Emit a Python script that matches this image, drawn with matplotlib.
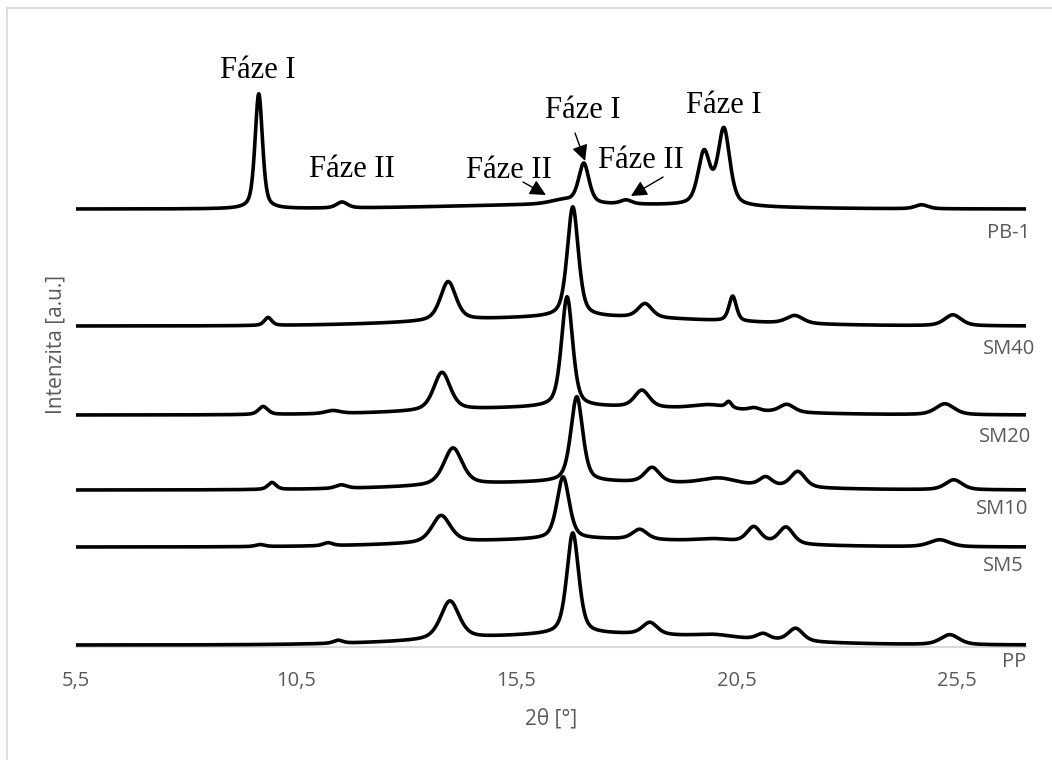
import numpy as np
import matplotlib
matplotlib.use("Agg")
import matplotlib.pyplot as plt
from matplotlib.lines import Line2D

# ---- axis range and labels -------------------------------------------------
two_theta_min, two_theta_max = 5.5, 27.07
tick_values = [5.5, 10.5, 15.5, 20.5, 25.5]
tick_labels = ["5,5", "10,5", "15,5", "20,5", "25,5"]

# ---- diffraction patterns: vertical offset + peak table per sample ----------
samples = ["PB-1", "SM40", "SM20", "SM10", "SM5", "PP"]
offsets = [438, 321, 232, 157, 100, 2]

# broad amorphous halo under each pattern
halo_height = [4.5, 9, 8, 8, 8, 11]
halo_center = [17.0, 17.0, 17.0, 17.0, 17.0, 17.3]
halo_fwhm = [7.0, 7.0, 7.0, 7.0, 7.0, 7.0]

pb1_pos = [9.65, 11.54, 16.55, 17.03, 17.99, 19.76, 20.21, 24.70]
pb1_height = [115, 6, 4, 40, 4, 52, 76, 4]
pb1_fwhm = [0.20, 0.30, 0.70, 0.28, 0.30, 0.32, 0.32, 0.35]

sm40_pos = [9.86, 13.95, 16.78, 18.42, 20.41, 21.82, 25.41]
sm40_height = [8, 39, 110, 14, 25, 8, 11]
sm40_fwhm = [0.20, 0.42, 0.30, 0.38, 0.20, 0.45, 0.45]

sm20_pos = [9.75, 11.33, 13.81, 16.65, 18.35, 19.90, 20.32, 20.90, 21.64, 25.23]
sm20_height = [8, 3, 38, 110, 17, 5, 6, 3, 8, 11]
sm20_fwhm = [0.25, 0.40, 0.45, 0.30, 0.40, 1.00, 0.15, 0.30, 0.40, 0.50]

sm10_pos = [9.95, 11.52, 14.06, 16.87, 18.58, 20.10, 21.16, 21.89, 25.43]
sm10_height = [7, 3.5, 37, 85, 15, 7, 9, 16, 10]
sm10_fwhm = [0.22, 0.30, 0.50, 0.32, 0.40, 1.00, 0.35, 0.40, 0.45]

sm5_pos = [9.68, 11.22, 13.79, 16.56, 18.30, 20.00, 20.89, 21.62, 25.11]
sm5_height = [2, 3, 27, 62, 10, 3, 16, 17, 7]
sm5_fwhm = [0.25, 0.25, 0.50, 0.33, 0.40, 1.00, 0.38, 0.40, 0.55]

pp_pos = [11.45, 13.99, 16.78, 18.53, 20.00, 21.10, 21.84, 25.34]
pp_height = [3, 38, 101, 12, 3, 6, 13, 10]
pp_fwhm = [0.25, 0.50, 0.32, 0.40, 1.00, 0.35, 0.40, 0.50]

peak_tables = [
    (pb1_pos, pb1_height, pb1_fwhm),
    (sm40_pos, sm40_height, sm40_fwhm),
    (sm20_pos, sm20_height, sm20_fwhm),
    (sm10_pos, sm10_height, sm10_fwhm),
    (sm5_pos, sm5_height, sm5_fwhm),
    (pp_pos, pp_height, pp_fwhm),
]


def pseudo_voigt(x, center, fwhm, eta=0.5):
    d = (x - center) / fwhm
    lor = 1.0 / (1.0 + 4.0 * d ** 2)
    gau = np.exp(-4.0 * np.log(2.0) * d ** 2)
    return eta * lor + (1.0 - eta) * gau


def gaussian(x, center, fwhm):
    return np.exp(-4.0 * np.log(2.0) * ((x - center) / fwhm) ** 2)


theta = np.linspace(two_theta_min, two_theta_max, 3000)

# ---- figure ----------------------------------------------------------------
W, H = 1052, 760
fig = plt.figure(figsize=(W / 100, H / 100), dpi=100)
ax_left, ax_right = 76, 1026
ax_bottom, ax_top = 647, 40
ax = fig.add_axes([ax_left / W, 1 - ax_bottom / H,
                   (ax_right - ax_left) / W, (ax_bottom - ax_top) / H])
ax.set_xlim(two_theta_min, two_theta_max)
ax.set_ylim(0, ax_bottom - ax_top)

label_font = "Open Sans"
gray = "#595959"

for i, name in enumerate(samples):
    pos, hgt, wid = peak_tables[i]
    y = np.full_like(theta, float(offsets[i]))
    y += halo_height[i] * gaussian(theta, halo_center[i], halo_fwhm[i])
    for c, h, w in zip(pos, hgt, wid):
        y += h * pseudo_voigt(theta, c, w)
    ax.plot(theta, y, color="black", lw=2.6, solid_capstyle="butt",
            solid_joinstyle="round", zorder=3)

# sample names at the right end of each pattern
name_pos = {"PB-1": (26.68, 414), "SM40": (26.68, 298), "SM20": (26.60, 210),
            "SM10": (26.53, 138), "SM5": (26.55, 81), "PP": (26.81, -15)}
for name in samples:
    x, y = name_pos[name]
    ax.text(x, y, name, ha="center", va="center", fontsize=14.5,
            color=gray, family=label_font, clip_on=False)

# axes styling
for side in ("top", "right", "left"):
    ax.spines[side].set_visible(False)
ax.spines["bottom"].set_color("#d9d9d9")
ax.spines["bottom"].set_linewidth(1.5)
ax.set_yticks([])
ax.set_xticks(tick_values)
ax.set_xticklabels(tick_labels, fontsize=14.5, color=gray, family=label_font)
ax.tick_params(axis="x", length=0, pad=17)

fig.text((ax_left + ax_right) / 2 / W, 1 - 719 / H, "2θ [°]", ha="center",
         va="center", fontsize=15, color=gray, family=label_font)
fig.text(56 / W, 1 - 344 / H, "Intenzita [a.u.]", ha="center", va="center",
         rotation=90, fontsize=15, color=gray, family=label_font)

# phase annotations
serif = "Liberation Serif"
phase_labels = [
    ("Fáze I", 9.63, 569),
    ("Fáze II", 11.77, 470),
    ("Fáze II", 15.33, 469),
    ("Fáze I", 17.01, 529),
    ("Fáze II", 18.33, 479),
    ("Fáze I", 20.21, 534),
]
for txt, x, y in phase_labels:
    ax.text(x, y, txt, ha="center", va="baseline", fontsize=22,
            family=serif, color="black", clip_on=False)

arrows = [
    ((15.65, 465), (16.17, 452)),
    ((16.83, 514), (17.06, 486)),
    ((18.83, 470), (18.10, 451)),
]
for tail, tip in arrows:
    ax.annotate("", xy=tip, xytext=tail,
                arrowprops=dict(arrowstyle="-|>", color="black", lw=1.0,
                                mutation_scale=24, shrinkA=0, shrinkB=0))

# chart area frame (left and top edges)
fig.add_artist(Line2D([6.5 / W, 6.5 / W], [0, 1 - 7.5 / H],
                      transform=fig.transFigure, color="#d9d9d9", lw=1.2))
fig.add_artist(Line2D([6.5 / W, 1], [1 - 7.5 / H, 1 - 7.5 / H],
                      transform=fig.transFigure, color="#d9d9d9", lw=1.2))

fig.savefig("out.png", dpi=100, facecolor="white")
